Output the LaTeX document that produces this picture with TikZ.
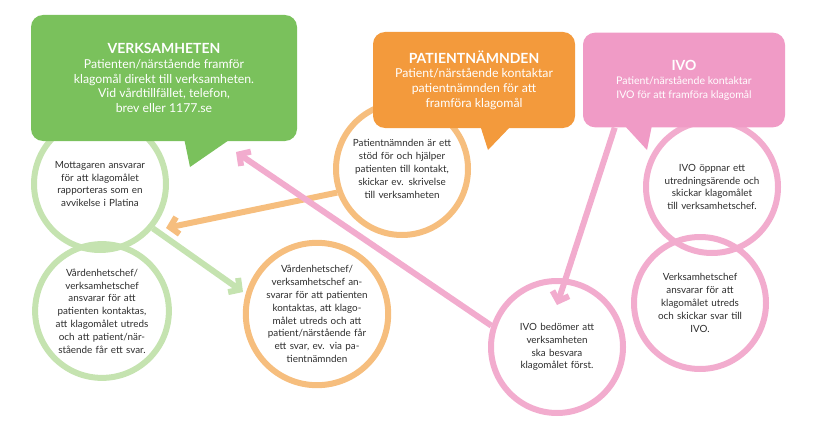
\documentclass[tikz,border=0pt]{standalone}
\usepackage{fontspec}
\setmainfont{Lato}
\usetikzlibrary{arrows.meta}
\definecolor{vgreen}{RGB}{122,193,92}
\definecolor{lgreen}{RGB}{197,227,176}
\definecolor{vorange}{RGB}{243,154,60}
\definecolor{lorange}{RGB}{246,190,126}
\definecolor{vpink}{RGB}{240,155,198}
\definecolor{lpink}{RGB}{242,172,206}
\definecolor{txt}{RGB}{45,45,45}
\tikzset{
  ring/.style={circle,draw=#1,line width=4.5pt,minimum size=99pt,inner sep=0pt,
    text width=78pt,align=center,font=\fontsize{7.4}{9.6}\selectfont,text=txt},
  head/.style={fill=#1,rounded corners=9pt,text=white,align=center,
    font=\fontsize{9.2}{11}\selectfont},
  flow/.style={draw=#1,line width=4.5pt,-{Straight Barb[length=6pt,width=13pt,line width=4.5pt]}}
}
\begin{document}
\begin{tikzpicture}[x=0.75pt,y=0.75pt,yscale=-1,xscale=1]
\useasboundingbox (0,0) rectangle (824,435);
%circles
\node[ring=lgreen] (mott) at (100,184) {Mottagaren ansvarar för att klagomålet rapporteras som en avvikelse i Platina};
\node[ring=lgreen] (vchef) at (102,311) {Vårdenhetschef/\\ verksamhetschef\\ ansvarar för att\\ patienten kontaktas,\\ att klagomålet utreds\\ och att patient/när-\\ stående får ett svar.};
\node[ring=lorange] (pstod) at (402,169) {Patientnämnden är ett stöd för och hjälper patienten till kontakt, skickar ev. skrivelse till verksamheten};
\node[ring=lorange] (vchef2) at (317,314) {Vårdenhetschef/\\ verksamhetschef an-\\ svarar för att patienten\\ kontaktas, att klago-\\ målet utreds och att\\ patient/närstående får\\ ett svar, ev. via pa-\\ tientnämnden};
\node[ring=lpink] (ivoopp) at (712,187) {IVO öppnar ett utredningsärende och skickar klagomålet till verksamhetschef.};
\node[ring=lpink] (vsvar) at (700,303) {Verksamhetschef\\ ansvarar för att\\ klagomålet utreds\\ och skickar svar till\\ IVO.};
\node[ring=lpink] (ivobed) at (557,347) {IVO bedömer att\\ verksamheten\\ ska besvara\\ klagomålet först.};

%boxes
\node[head=vgreen,minimum width=199.5pt,minimum height=94.5pt] (verk) at (164,78) {\textbf{\fontsize{10.5}{11}\selectfont VERKSAMHETEN}\\ Patienten/närstående framför\\ klagomål direkt till verksamheten.\\ Vid vårdtillfället, telefon,\\ brev eller 1177.se};
\fill[vgreen] (184,138) -- (190,167) -- (232,138) -- cycle;
\node[head=vorange,minimum width=151.5pt,minimum height=72pt] (pn) at (474,80) {\textbf{\fontsize{10.5}{11}\selectfont PATIENTNÄMNDEN}\\ Patient/närstående kontaktar\\ patientnämnden för att\\ framföra klagomål};
\fill[vorange] (480,125) -- (488,150) -- (512,125) -- cycle;
\node[head=vpink,minimum width=151.5pt,minimum height=71pt,font=\fontsize{7.9}{10}\selectfont] (ivo) at (684,80) {\textbf{\fontsize{10.5}{11}\selectfont IVO}\\[1pt] Patient/närstående kontaktar\\ IVO för att framföra klagomål};
\fill[vpink] (624,125) -- (647,150) -- (652,125) -- cycle;

%arrows
\draw[flow=lorange] (pstod.-160) -- (166,228);
\draw[flow=lgreen] (mott.-40) -- (243,292);
\draw[flow=lpink] (ivo.south west) ++(32,0) -- (557,305);
\draw[flow=lpink] (ivobed.162) -- (236,152);
\end{tikzpicture}
\end{document}
